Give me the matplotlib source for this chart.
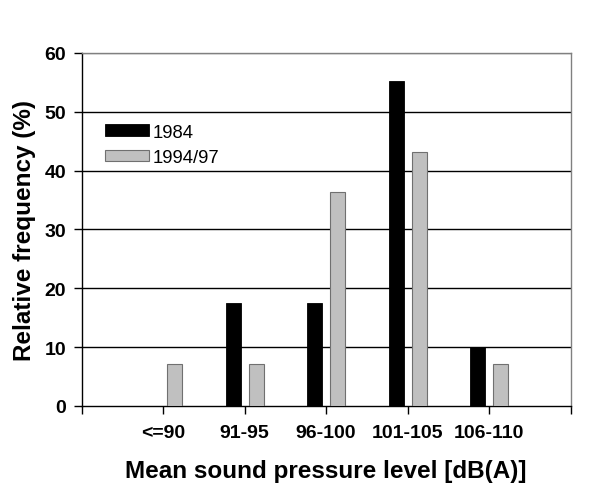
import matplotlib
matplotlib.use("Agg")
import matplotlib.pyplot as plt
import numpy as np

categories = ["<=90", "91-95", "96-100", "101-105", "106-110"]
series_1984 = [0, 17.5, 17.5, 55.2, 10.0]
series_1994 = [7.2, 7.2, 36.3, 43.1, 7.2]
series_names = ["1984", "1994/97"]

plt.rcParams['font.family'] = ['Liberation Sans', 'DejaVu Sans']

fig = plt.figure(figsize=(6, 4.89), dpi=100)
ax = fig.add_axes([0.136, 0.168, 0.815, 0.7216])

x = np.arange(1, len(categories) + 1)
w = 0.184
off = 0.141
ax.bar(x - off, series_1984, width=w, color="black", edgecolor="black", linewidth=0.6,
       label=series_names[0], zorder=3)
ax.bar(x + off, series_1994, width=w, color="#c0c0c0", edgecolor="#707070", linewidth=0.8,
       label=series_names[1], zorder=3)

ax.set_xlim(0, len(categories) + 1)
ax.set_ylim(0, 60)
ax.set_yticks(range(0, 61, 10))
ax.set_xticks(range(0, len(categories) + 2))
ax.set_xticklabels([""] + categories + [""], fontweight="bold", fontsize=14)
ax.tick_params(axis='x', direction='out', length=6, width=1, pad=7, color="black")
ax.tick_params(axis='y', direction='out', length=6, width=1, pad=5, labelsize=14)
for lab in ax.get_yticklabels():
    lab.set_fontweight("bold")

for yv in range(10, 61, 10):
    ax.axhline(yv, color="black" if yv < 60 else "#808080", linewidth=1, zorder=1)

ax.spines['left'].set_color("black")
ax.spines['bottom'].set_color("black")
ax.spines['top'].set_color("#808080")
ax.spines['right'].set_color("#808080")
for s in ax.spines.values():
    s.set_linewidth(1)

ax.set_ylabel("Relative frequency (%)", fontsize=17.5, fontweight="bold", labelpad=6)
ax.set_xlabel("Mean sound pressure level [dB(A)]", fontsize=17.5, fontweight="bold", labelpad=13)

leg = ax.legend(loc="upper left", bbox_to_anchor=(0.048, 0.80), frameon=False, fontsize=13.3,
                handlelength=2.4, handleheight=0.55, handletextpad=0.2, labelspacing=0.45,
                borderaxespad=0, borderpad=0)

fig.savefig("out.png", dpi=100)
